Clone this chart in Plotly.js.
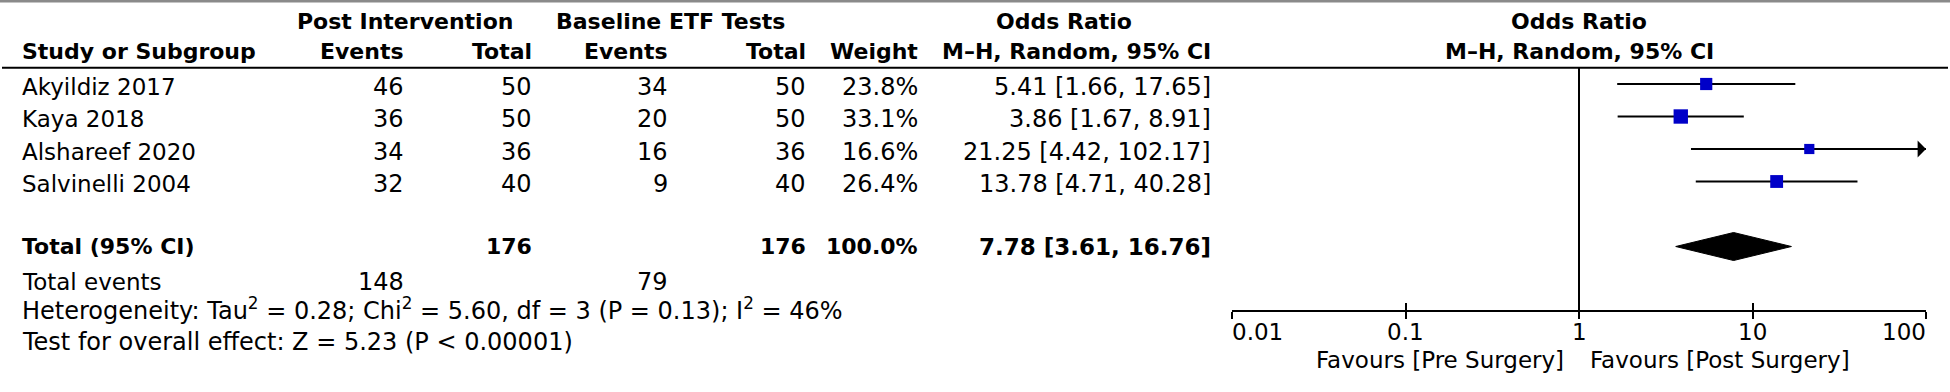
<!DOCTYPE html>
<html><head><meta charset="utf-8">
<script src="https://cdn.plot.ly/plotly-3.0.1.min.js"></script>
<style>html,body{margin:0;padding:0;background:#fff;overflow:hidden}</style>
</head><body><div id="chart" style="width:1950px;height:392px"></div>
<script>
// ---------- data ----------
const studies = ["Akyildiz 2017", "Kaya 2018", "Alshareef 2020", "Salvinelli 2004"];
const postEvents = [46, 36, 34, 32];
const postTotal = [50, 50, 36, 40];
const baseEvents = [34, 20, 16, 9];
const baseTotal = [50, 50, 36, 40];
const weights = [23.8, 33.1, 16.6, 26.4];
const orValues = [5.41, 3.86, 21.25, 13.78];
const ciLower = [1.66, 1.67, 4.42, 4.71];
const ciUpper = [17.65, 8.91, 102.17, 40.28];
const totalOR = [7.78];
const totalLower = [3.61];
const totalUpper = [16.76];
const totalPostN = [176];
const totalBaseN = [176];
const totalWeight = [100.0];
const totalEventsPost = [148];
const totalEventsBase = [79];
const groupHeaders = ["Post Intervention", "Baseline ETF Tests", "Odds Ratio", "Odds Ratio"];
const colHeaders = ["Study or Subgroup", "Events", "Total", "Events", "Total", "Weight", "M–H, Random, 95% CI", "M–H, Random, 95% CI"];
const totalLabel = "Total (95% CI)";
const totalEventsLabel = "Total events";
const heterogeneityText = "Heterogeneity: Tau<sup>2</sup> = 0.28; Chi<sup>2</sup> = 5.60, df = 3 (P = 0.13); I<sup>2</sup> = 46%";
const overallEffectText = "Test for overall effect: Z = 5.23 (P &lt; 0.00001)";
const tickValues = [0.01, 0.1, 1, 10, 100];
const tickLabels = ["0.01", "0.1", "1", "10", "100"];
const favoursLeft = "Favours [Pre Surgery]";
const favoursRight = "Favours [Post Surgery]";

// ---------- layout helpers ----------
const W = 1950, H = 392;
const rowPx0 = 84, rowStep = 32.5;
const yTop = -rowPx0 / rowStep, yBot = (H - rowPx0) / rowStep;
const pxToRow = p => (p - rowPx0) / rowStep;
const P = v => v / W;
const FONT = "DejaVu Sans";
const NORMAL = 23, BOLD = 22, NUM = 24, BOLDNUM = 23;
const axisMin = tickValues[0], axisMax = tickValues[tickValues.length - 1];
const rows = studies.map((_, i) => i);
const totalRow = 5;
const textOff = 0.08;

const annotations = [];
function txt(text, xPx, row, anchor, bold, size) {
  annotations.push({
    xref: 'paper', yref: 'y', x: P(xPx), y: row, xanchor: anchor, yanchor: 'middle',
    text: bold ? '<b>' + text + '</b>' : text, showarrow: false,
    borderpad: 0, borderwidth: 0,
    font: {family: FONT, size: size || (bold ? BOLD : NORMAL), color: '#000'}
  });
}

// columns (pixel positions)
const xStudy = 22, xPostEv = 404, xPostTot = 532, xBaseEv = 668, xBaseTot = 806, xWeight = 918, xOR = 1211;
const cPost = 405, cBase = 670, cOR = 1064, cPlot = 1579;

// headers
const hRow1 = pxToRow(21), hRow2 = pxToRow(51);
txt(groupHeaders[0], cPost, hRow1, 'center', true);
txt(groupHeaders[1], cBase, hRow1, 'center', true);
txt(groupHeaders[2], cOR, hRow1, 'center', true);
txt(groupHeaders[3], cPlot, hRow1, 'center', true);
txt(colHeaders[0], xStudy, hRow2, 'left', true);
txt(colHeaders[1], xPostEv, hRow2, 'right', true);
txt(colHeaders[2], xPostTot, hRow2, 'right', true);
txt(colHeaders[3], xBaseEv, hRow2, 'right', true);
txt(colHeaders[4], xBaseTot, hRow2, 'right', true);
txt(colHeaders[5], xWeight, hRow2, 'right', true);
txt(colHeaders[6], xOR, hRow2, 'right', true);
txt(colHeaders[7], cPlot, hRow2, 'center', true);

// study rows
const fmtCI = (o, l, u) => o.toFixed(2) + ' [' + l.toFixed(2) + ', ' + u.toFixed(2) + ']';
studies.forEach((s, i) => {
  const r = rows[i] + textOff;
  txt(s, xStudy, r, 'left', false);
  txt(String(postEvents[i]), xPostEv, r, 'right', false, NUM);
  txt(String(postTotal[i]), xPostTot, r, 'right', false, NUM);
  txt(String(baseEvents[i]), xBaseEv, r, 'right', false, NUM);
  txt(String(baseTotal[i]), xBaseTot, r, 'right', false, NUM);
  txt(weights[i].toFixed(1) + '%', xWeight, r, 'right', false, NUM);
  txt(fmtCI(orValues[i], ciLower[i], ciUpper[i]), xOR, r, 'right', false, NUM);
});

// total row
const tr = totalRow;
txt(totalLabel, xStudy, tr, 'left', true);
txt(String(totalPostN[0]), xPostTot, tr, 'right', true);
txt(String(totalBaseN[0]), xBaseTot, tr, 'right', true);
txt(totalWeight[0].toFixed(1) + '%', xWeight, tr, 'right', true);
txt(fmtCI(totalOR[0], totalLower[0], totalUpper[0]), xOR, tr, 'right', true, BOLDNUM);

// footer rows
txt(totalEventsLabel, xStudy, pxToRow(282), 'left', false);
txt(String(totalEventsPost[0]), xPostEv, pxToRow(282), 'right', false, NUM);
txt(String(totalEventsBase[0]), xBaseEv, pxToRow(282), 'right', false, NUM);
txt(heterogeneityText, xStudy, pxToRow(308.5), 'left', false, NUM);
txt(overallEffectText, xStudy, pxToRow(341.5), 'left', false, NUM);

// tick labels (through the x axis scale)
const tickRow = pxToRow(331.5);
tickValues.forEach((v, i) => {
  annotations.push({
    xref: 'x', yref: 'y', x: Math.log10(v), y: tickRow,
    xanchor: i === 0 ? 'left' : (i === tickValues.length - 1 ? 'right' : 'center'), yanchor: 'middle',
    text: tickLabels[i], showarrow: false, borderpad: 0, borderwidth: 0,
    font: {family: FONT, size: NORMAL, color: '#000'}
  });
});
const favRow = pxToRow(359.5);
annotations.push({xref: 'x', yref: 'y', x: 0, y: favRow, xanchor: 'right', yanchor: 'middle', xshift: -15,
  text: favoursLeft, showarrow: false, borderpad: 0, borderwidth: 0, font: {family: FONT, size: NORMAL, color: '#000'}});
annotations.push({xref: 'x', yref: 'y', x: 0, y: favRow, xanchor: 'left', yanchor: 'middle', xshift: 11,
  text: favoursRight, showarrow: false, borderpad: 0, borderwidth: 0, font: {family: FONT, size: NORMAL, color: '#000'}});

// arrows for CIs beyond the axis
rows.forEach(i => {
  if (ciUpper[i] > axisMax) {
    annotations.push({xref: 'x', yref: 'y', x: Math.log10(axisMax), y: rows[i], ax: -20, ay: 0,
      text: '', showarrow: true, arrowhead: 1, arrowsize: 1.4, arrowwidth: 2, arrowcolor: '#000', standoff: 0});
  }
});

// ---------- traces ----------
const traces = [];
// line of no effect
traces.push({x: [1, 1], y: [-0.5, 7], mode: 'lines', line: {color: '#000', width: 2}, hoverinfo: 'skip'});
// CI lines
rows.forEach(i => {
  traces.push({x: [Math.max(ciLower[i], axisMin), Math.min(ciUpper[i], axisMax)], y: [rows[i], rows[i]],
    mode: 'lines', line: {color: '#000', width: 2}, hoverinfo: 'skip'});
});
// squares
traces.push({x: orValues, y: rows, mode: 'markers', cliponaxis: false,
  marker: {symbol: 'square', size: weights.map(w => 2.5 * Math.sqrt(w)), color: '#0000c8', opacity: 1, line: {width: 0}}});
// diamond
const dh = 14 / rowStep;
traces.push({x: [totalLower[0], totalOR[0], totalUpper[0], totalOR[0], totalLower[0]],
  y: [tr, tr - dh, tr, tr + dh, tr], mode: 'lines', fill: 'toself', fillcolor: '#000',
  line: {color: '#000', width: 1}, hoverinfo: 'skip'});
// dummy for the second (inner-tick) axis
traces.push({x: [1], y: [yBot], xaxis: 'x2', yaxis: 'y', mode: 'markers', marker: {opacity: 0}, hoverinfo: 'skip'});

const axisPos = (H - 311) / H;
const xBase = {type: 'log', range: [Math.log10(axisMin), Math.log10(axisMax)], domain: [P(1232), P(1926)],
  anchor: 'free', position: axisPos, tickvals: tickValues, showticklabels: false, showgrid: false,
  zeroline: false, fixedrange: true, tickcolor: '#000', tickwidth: 2};

const layout = {
  width: W, height: H, margin: {l: 0, r: 0, t: 0, b: 0},
  paper_bgcolor: '#fff', plot_bgcolor: 'rgba(0,0,0,0)', showlegend: false,
  font: {family: FONT, size: NORMAL, color: '#000'},
  xaxis: Object.assign({}, xBase, {showline: true, linewidth: 2, linecolor: '#000', ticks: 'outside', ticklen: 7}),
  xaxis2: Object.assign({}, xBase, {overlaying: 'x', showline: false, ticks: 'inside', ticklen: 8}),
  yaxis: {range: [yBot, yTop], domain: [0, 1], visible: false, fixedrange: true},
  shapes: [
    {type: 'line', xref: 'paper', yref: 'paper', x0: 0, x1: 1, y0: 1 - 1.2 / H, y1: 1 - 1.2 / H,
      line: {color: '#8a8a8a', width: 2.5}},
    {type: 'line', xref: 'paper', yref: 'y', x0: P(2), x1: P(1948), y0: -0.5, y1: -0.5,
      line: {color: '#000', width: 2}}
  ],
  annotations: annotations
};

Plotly.newPlot('chart', traces, layout, {staticPlot: true, displayModeBar: false});
</script>
</body></html>
